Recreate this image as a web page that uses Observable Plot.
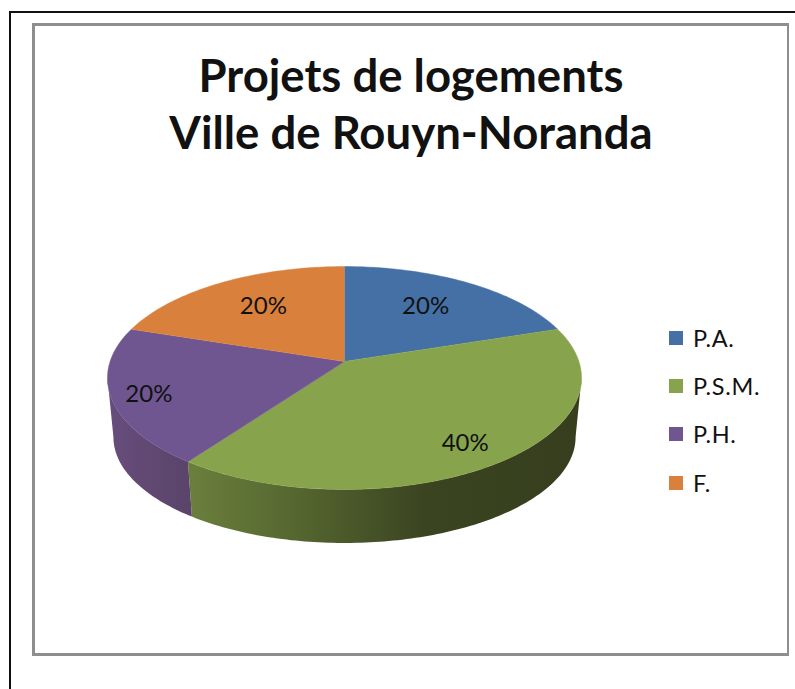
<!DOCTYPE html>
<html lang="fr">
<head>
<meta charset="utf-8">
<script src="https://cdn.jsdelivr.net/npm/d3@7"></script>
<script src="https://cdn.jsdelivr.net/npm/@observablehq/plot@0.6"></script>
<style>
  html, body { margin: 0; padding: 0; background: #fff; width: 795px; height: 689px; overflow: hidden; }
  #page { position: absolute; left: 9px; top: 11px; width: 786px; height: 678px; border-left: 2px solid #111; border-top: 2px solid #111; box-sizing: border-box; }
  #frame { position: absolute; left: 21px; top: 10px; width: 757px; height: 633px; border: 3px solid #8e8e8e; border-right-width: 2px; box-sizing: border-box; font-family: Lato, sans-serif; color: #111; }
  #title { position: absolute; left: 0; right: 0; top: 20px; margin: 0; text-align: center; font-size: 45.5px; line-height: 57px; font-weight: 700; }
  #chart { position: absolute; left: 0; top: 174px; width: 620px; height: 360px; }
  #chart svg { display: block; }
  #legend { position: absolute; left: 634px; top: 298.5px; }
  .item { position: absolute; left: 0; display: flex; align-items: center; height: 26px; font-size: 23.5px; white-space: nowrap; letter-spacing: .7px; }
  .swatch { width: 14px; height: 14px; margin-right: 10px; flex: none; }
</style>
</head>
<body>
<div id="page">
  <div id="frame">
    <h1 id="title"></h1>
    <div id="chart"></div>
    <div id="legend"></div>
  </div>
</div>
<script>
// Data
const titleLines = ["Projets de logements", "Ville de Rouyn-Noranda"];
const categories = ["P.A.", "P.S.M.", "P.H.", "F."];
const shares = [20, 40, 20, 20];

// Styles
const topColors = ["#4470a5", "#87a44d", "#6f5690", "#d9813c"];
const wallFills = ["#2f4d72", "url(#wallGreen)", "url(#wallPurple)", "#96592a"];
const labelRadius = [0.66, 0.82, 0.85, 0.66];
const labelTurn = [-1.5, 1.6, -2, 1.5];

// Perspective tilt of the disc
const tilt = 0.148;
const project = (deg, r = 1) => {
  const t = deg * Math.PI / 180;
  const u = r * Math.sin(t), v = r * Math.cos(t), w = 1 + tilt * v;
  return [u / w, v / w];
};
const lower = ([x, y]) => [x * 0.975, y * 0.95 - 0.55];

// Slice angles from the shares
const total = d3.sum(shares);
const ends = d3.cumsum(shares).map(s => s / total * 360);
const slices = categories.map((category, i) => ({
  category, share: shares[i], start: i ? ends[i - 1] : 0, end: ends[i]
}));
const arc = (from, to) => [...d3.range(from, to, 1), to];

const topRows = slices.flatMap(s => [
  {category: s.category, p: [0, 0]},
  ...arc(s.start, s.end).map(a => ({category: s.category, p: project(a)}))
]);

// The wall only shows between the disc's left and right extremes
const rightmost = Math.acos(-tilt) * 180 / Math.PI;
const leftmost = 360 - rightmost;
const wallRows = s => {
  const from = Math.max(s.start, rightmost), to = Math.min(s.end, leftmost);
  if (from >= to) return [];
  const a = arc(from, to);
  return [...a.map(d => ({p: project(d)})), ...a.slice().reverse().map(d => ({p: lower(project(d))}))];
};
const labelRows = slices.map((s, i) => ({
  text: `${s.share}%`, p: project((s.start + s.end) / 2 + labelTurn[i], labelRadius[i])
}));

const X = d => d.p[0], Y = d => d.p[1];
const cx = 309, cy = 161, sx = 234.4, sy = 109;

const plot = Plot.plot({
  width: 620, height: 360, margin: 0,
  style: {background: "transparent", overflow: "visible"},
  x: {axis: null, domain: [-1, 1], range: [cx - sx, cx + sx]},
  y: {axis: null, domain: [-1, 1], range: [cy + sy, cy - sy]},
  color: {domain: categories, range: topColors},
  marks: [
    ...slices.map((s, i) => Plot.line(wallRows(s), {x: X, y: Y, fill: wallFills[i], stroke: "none"})),
    Plot.line(topRows, {x: X, y: Y, z: "category", fill: "category", stroke: "category", strokeWidth: 0.5}),
    Plot.text(labelRows, {x: X, y: Y, text: "text", fontSize: 24, fontFamily: "Lato, sans-serif", fill: "#111"})
  ]
});

const svgNS = "http://www.w3.org/2000/svg";
const gradients = {
  wallGreen: [[0, "#6b7f3d"], [0.26, "#566830"], [0.6, "#3b4421"], [1, "#363e1d"]],
  wallPurple: [[0, "#674d7c"], [1, "#5a4469"]]
};
const defs = document.createElementNS(svgNS, "defs");
for (const [id, stops] of Object.entries(gradients)) {
  const g = document.createElementNS(svgNS, "linearGradient");
  g.setAttribute("id", id);
  for (const [o, c] of stops) {
    const st = document.createElementNS(svgNS, "stop");
    st.setAttribute("offset", o);
    st.setAttribute("stop-color", c);
    g.appendChild(st);
  }
  defs.appendChild(g);
}
plot.insertBefore(defs, plot.firstChild);
document.getElementById("chart").appendChild(plot);

const title = document.getElementById("title");
titleLines.forEach((t, i) => {
  if (i) title.appendChild(document.createElement("br"));
  title.appendChild(document.createTextNode(t));
});

const legend = document.getElementById("legend");
categories.forEach((c, i) => {
  const item = document.createElement("div");
  item.className = "item";
  item.style.top = `${i * 48.4}px`;
  const sw = document.createElement("span");
  sw.className = "swatch";
  sw.style.background = topColors[i];
  item.appendChild(sw);
  item.appendChild(document.createTextNode(c));
  legend.appendChild(item);
});
</script>
</body>
</html>
